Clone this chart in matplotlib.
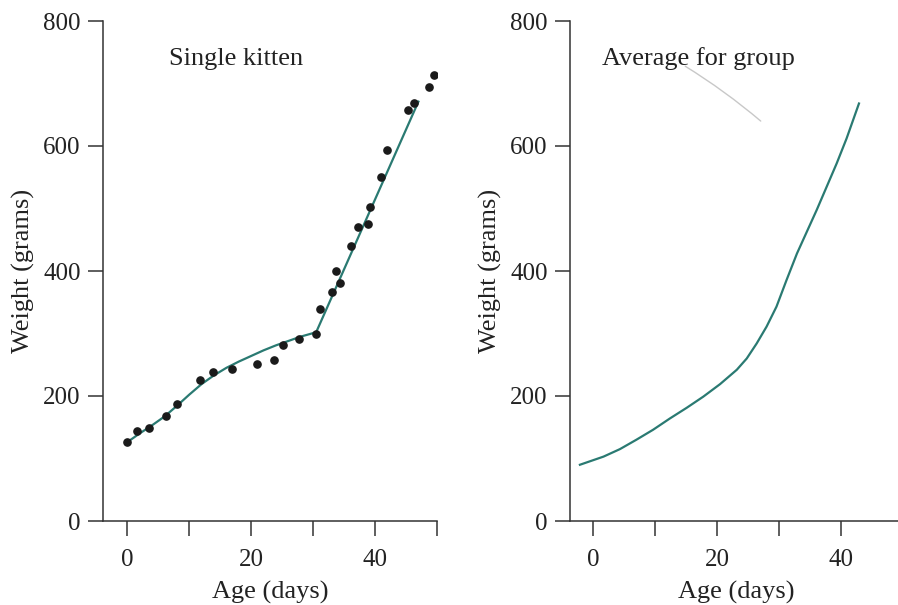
import matplotlib
matplotlib.use("Agg")
import matplotlib.pyplot as plt

plt.rcParams['font.family'] = ['Liberation Serif', 'DejaVu Serif']

# Single kitten: measured points
kitten_days = [0.0, 1.6, 3.5, 6.2, 8.1, 11.7, 13.9, 16.9, 21.0, 23.7, 25.2, 27.8, 30.5,
               31.1, 33.0, 33.7, 34.4, 36.1, 37.2, 38.9, 39.2, 41.0, 41.9, 45.4, 46.3, 48.7, 49.5]
kitten_weight = [126, 144, 149, 168, 188, 226, 238, 244, 251, 257, 281, 291, 299,
                 339, 366, 400, 381, 440, 471, 476, 502, 550, 593, 657, 669, 694, 714]

# Single kitten: fitted curve
fit_days = [0.0, 2, 4, 6, 8, 10, 12, 14, 16, 18, 20, 22, 24, 26, 28, 30.5, 47.0]
fit_weight = [126, 140, 153, 167, 184, 202, 219, 233, 245, 255, 264, 273, 281, 288, 295, 302, 671]

# Average for group
group_days = [-2.1, 1.7, 4.35, 7.0, 9.7, 12.4, 15.1, 17.8, 20.5, 23.2, 24.8, 26.4, 28.0,
              29.6, 31.2, 32.9, 34.5, 36.1, 37.7, 39.3, 40.9, 42.9]
group_weight = [90, 103, 115, 130, 146, 164, 181, 199, 219, 242, 260, 284, 311,
                343, 385, 428, 463, 498, 535, 572, 612, 668]

x_ticks = [0, 10, 20, 30, 40, 50]
x_ticklabels = ['0', '', '20', '', '40', '']
y_ticks = [0, 200, 400, 600, 800]

teal = '#2a7a72'
axc = '#333333'

W, H = 898, 605
fig = plt.figure(figsize=(W / 100, H / 100), dpi=100)

def px_box(left, right, top, bottom):
    return [left / W, 1 - bottom / H, (right - left) / W, (bottom - top) / H]

ax1 = fig.add_axes(px_box(103, 437, 21, 521))
ax2 = fig.add_axes(px_box(570, 903, 21, 521))

def style(ax, xlim):
    ax.set_xlim(*xlim)
    ax.set_ylim(0, 800)
    for s in ['top', 'right']:
        ax.spines[s].set_visible(False)
    for s in ['left', 'bottom']:
        ax.spines[s].set_color(axc)
        ax.spines[s].set_linewidth(1.1)
    ax.set_xticks(x_ticks)
    ax.set_xticklabels(x_ticklabels)
    ax.set_yticks(y_ticks)
    ax.tick_params(axis='both', direction='out', length=11, width=1.1, color=axc,
                   labelsize=18, labelcolor='#222222')
    ax.tick_params(axis='x', pad=9)
    ax.tick_params(axis='y', pad=5)
    ax.set_xlabel('Age (days)', fontsize=19, color='#222222', labelpad=7)
    ax.set_ylabel('Weight (grams)', fontsize=19, color='#222222', labelpad=6)
    ax.patch.set_visible(False)

style(ax1, (-3.9, 50))
style(ax2, (-3.7, 50))

ax1.plot(fit_days, fit_weight, color=teal, lw=1.6, zorder=2)
ax1.plot(kitten_days, kitten_weight, 'o', color='#1a1a1a', ms=5.2, zorder=3)
ax1.text(17.5, 740, 'Single kitten', fontsize=19, ha='center', va='center', color='#222222')

ax2.plot(group_days, group_weight, color=teal, lw=1.6)
ax2.text(1.5, 740, 'Average for group', fontsize=19, ha='left', va='center', color='#222222')
ax2.annotate('', xy=(27.4, 637), xytext=(14.5, 730),
             arrowprops=dict(arrowstyle='-', color='#c8c8c8', lw=1.0,
                             connectionstyle='arc3,rad=-0.04'))

fig.savefig('out.png', dpi=100)
